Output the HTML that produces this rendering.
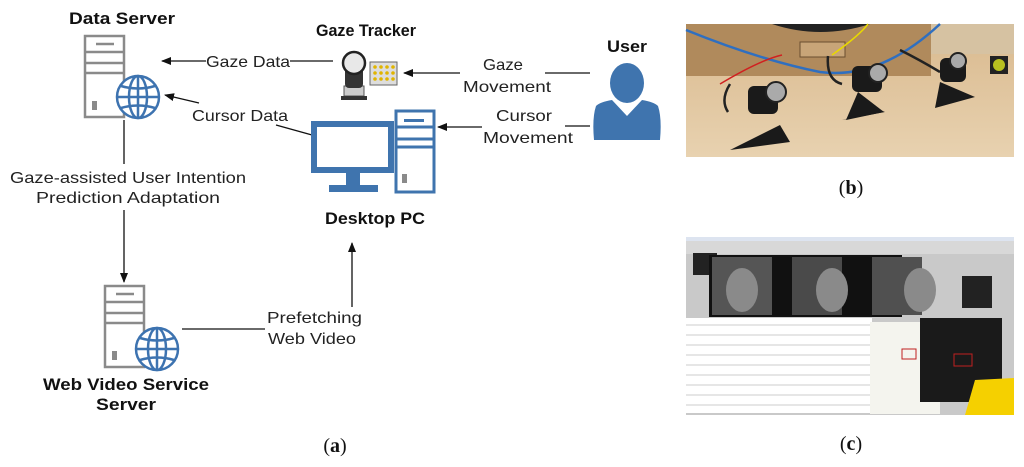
<!DOCTYPE html>
<html><head><meta charset="utf-8"><style>
html,body{margin:0;padding:0;background:#fff;width:1024px;height:467px;overflow:hidden}
svg{display:block}
text{font-family:"Liberation Sans",sans-serif;fill:#222}
.l{font-size:16px}
.b{font-size:17px;font-weight:bold;fill:#111}
</style></head><body>
<svg width="1024" height="467" viewBox="0 0 1024 467" xmlns="http://www.w3.org/2000/svg">
<defs>
<marker id="ah" markerWidth="10" markerHeight="8" refX="9" refY="4" orient="auto" markerUnits="userSpaceOnUse"><path d="M0,0 L10,4 L0,8 z" fill="#111"/></marker>
<g id="globe" fill="none" stroke="#3d73b0" stroke-width="2.5">
<circle cx="0" cy="0" r="21" fill="#fff"/>
<ellipse cx="0" cy="0" rx="9" ry="21"/>
<line x1="0" y1="-21" x2="0" y2="21"/>
<line x1="-21" y1="0" x2="21" y2="0"/>
<path d="M-17,-11 Q0,-6 17,-11 M-17,11 Q0,6 17,11"/>
</g>
<g id="tower" fill="none" stroke="#8a8a8a" stroke-width="2.5">
<rect x="0" y="0" width="39" height="81" fill="#fff"/>
<line x1="0" y1="16" x2="39" y2="16"/>
<line x1="0" y1="27" x2="39" y2="27"/>
<line x1="0" y1="37" x2="39" y2="37"/>
<line x1="11" y1="8" x2="29" y2="8"/>
<rect x="7" y="65" width="5" height="9" fill="#8a8a8a" stroke="none"/>
</g>
</defs>

<text class="b" x="122" y="24" text-anchor="middle" textLength="106" lengthAdjust="spacingAndGlyphs">Data Server</text>
<use href="#tower" x="85" y="36"/>
<use href="#globe" x="138" y="97"/>

<line x1="206" y1="61" x2="162" y2="61" stroke="#111" stroke-width="1.3" marker-end="url(#ah)"/>
<text class="l" x="206" y="67" textLength="84" lengthAdjust="spacingAndGlyphs">Gaze Data</text>
<line x1="290" y1="61" x2="333" y2="61" stroke="#111" stroke-width="1.3"/>

<text class="b" x="366" y="36" text-anchor="middle" textLength="100" lengthAdjust="spacingAndGlyphs">Gaze Tracker</text>
<g>
<rect x="344" y="86" width="20" height="10" fill="#ccc" stroke="#555"/>
<rect x="341" y="96" width="26" height="4" fill="#333"/>
<rect x="345" y="62" width="18" height="26" rx="4" fill="#333"/>
<ellipse cx="354" cy="63" rx="11" ry="11" fill="#e8e8e8" stroke="#222" stroke-width="2.5"/>
<rect x="370" y="62" width="27" height="23" fill="#ddd" stroke="#666"/>
<g fill="#e0b400">
<circle cx="375" cy="67" r="1.8"/><circle cx="381" cy="67" r="1.8"/><circle cx="387" cy="67" r="1.8"/><circle cx="393" cy="67" r="1.8"/>
<circle cx="375" cy="73" r="1.8"/><circle cx="381" cy="73" r="1.8"/><circle cx="387" cy="73" r="1.8"/><circle cx="393" cy="73" r="1.8"/>
<circle cx="375" cy="79" r="1.8"/><circle cx="381" cy="79" r="1.8"/><circle cx="387" cy="79" r="1.8"/><circle cx="393" cy="79" r="1.8"/>
</g>
</g>

<line x1="460" y1="73" x2="404" y2="73" stroke="#111" stroke-width="1.3" marker-end="url(#ah)"/>
<text class="l" x="503" y="70" text-anchor="middle" textLength="40" lengthAdjust="spacingAndGlyphs">Gaze</text>
<text class="l" x="507" y="92" text-anchor="middle" textLength="88" lengthAdjust="spacingAndGlyphs">Movement</text>
<line x1="545" y1="73" x2="590" y2="73" stroke="#111" stroke-width="1.3"/>

<text class="b" x="627" y="52" text-anchor="middle" textLength="40" lengthAdjust="spacingAndGlyphs">User</text>
<g fill="#3f74ae">
<ellipse cx="627" cy="83" rx="17" ry="20"/>
<path d="M596,106 Q600,102 612,100 L627,116 L642,100 Q654,102 658,106 Q662,118 660,140 L594,140 Q592,118 596,106 z"/>
</g>

<line x1="199" y1="103" x2="165" y2="95" stroke="#111" stroke-width="1.3" marker-end="url(#ah)"/>
<text class="l" x="192" y="121" textLength="96" lengthAdjust="spacingAndGlyphs">Cursor Data</text>
<line x1="276" y1="125" x2="312" y2="135" stroke="#111" stroke-width="1.3"/>

<g fill="#3f74ae">
<rect x="311" y="121" width="83" height="52"/>
<rect x="346" y="173" width="14" height="13"/>
<rect x="329" y="185" width="49" height="7"/>
</g>
<rect x="317" y="127" width="71" height="40" fill="#fff"/>
<g fill="none" stroke="#3f74ae" stroke-width="3">
<rect x="396" y="111" width="38" height="81" fill="#fff"/>
<line x1="396" y1="127" x2="434" y2="127"/>
<line x1="396" y1="139" x2="434" y2="139"/>
<line x1="396" y1="147" x2="434" y2="147"/>
</g>
<rect x="404" y="119" width="20" height="3" fill="#3f74ae"/>
<rect x="402" y="174" width="5" height="9" fill="#8a8a8a"/>
<text class="b" x="375" y="224" text-anchor="middle" textLength="100" lengthAdjust="spacingAndGlyphs">Desktop PC</text>

<line x1="482" y1="127" x2="438" y2="127" stroke="#111" stroke-width="1.3" marker-end="url(#ah)"/>
<text class="l" x="524" y="121" text-anchor="middle" textLength="56" lengthAdjust="spacingAndGlyphs">Cursor</text>
<text class="l" x="528" y="143" text-anchor="middle" textLength="90" lengthAdjust="spacingAndGlyphs">Movement</text>
<line x1="565" y1="126" x2="590" y2="126" stroke="#111" stroke-width="1.3"/>

<line x1="124" y1="120" x2="124" y2="164" stroke="#111" stroke-width="1.3"/>
<text class="l" x="128" y="183" text-anchor="middle" textLength="236" lengthAdjust="spacingAndGlyphs">Gaze-assisted User Intention</text>
<text class="l" x="128" y="203" text-anchor="middle" textLength="184" lengthAdjust="spacingAndGlyphs">Prediction Adaptation</text>
<line x1="124" y1="210" x2="124" y2="282" stroke="#111" stroke-width="1.3" marker-end="url(#ah)"/>

<use href="#tower" x="105" y="286"/>
<use href="#globe" x="157" y="349"/>
<text class="b" x="126" y="390" text-anchor="middle" textLength="166" lengthAdjust="spacingAndGlyphs">Web Video Service</text>
<text class="b" x="126" y="410" text-anchor="middle" textLength="60" lengthAdjust="spacingAndGlyphs">Server</text>

<line x1="182" y1="329" x2="265" y2="329" stroke="#111" stroke-width="1.3"/>
<text class="l" x="267" y="323" textLength="95" lengthAdjust="spacingAndGlyphs">Prefetching</text>
<text class="l" x="268" y="344" textLength="88" lengthAdjust="spacingAndGlyphs">Web Video</text>
<line x1="352" y1="307" x2="352" y2="243" stroke="#111" stroke-width="1.3" marker-end="url(#ah)"/>

<text x="335" y="452" text-anchor="middle" style="font-family:'Liberation Serif',serif;font-size:20px;fill:#111">(<tspan font-weight="bold">a</tspan>)</text>
<text x="851" y="194" text-anchor="middle" style="font-family:'Liberation Serif',serif;font-size:20px;fill:#111">(<tspan font-weight="bold">b</tspan>)</text>
<text x="851" y="450" text-anchor="middle" style="font-family:'Liberation Serif',serif;font-size:20px;fill:#111">(<tspan font-weight="bold">c</tspan>)</text>

<defs>
<linearGradient id="tbl" x1="0" y1="0" x2="0" y2="1"><stop offset="0" stop-color="#d9b98e"/><stop offset="1" stop-color="#e8d2b0"/></linearGradient>
</defs>
<rect x="686" y="24" width="328" height="133" fill="url(#tbl)"/>
<rect x="686" y="24" width="245" height="52" fill="#b08a5c"/>
<rect x="931" y="24" width="83" height="30" fill="#d6c2a2"/>
<path d="M772,24 Q820,40 870,24 z" fill="#222"/>
<rect x="800" y="42" width="45" height="15" fill="#c8a578" stroke="#6a4f30"/>
<path d="M686,30 Q760,60 820,72 Q880,80 940,24" fill="none" stroke="#2f6fc0" stroke-width="2.5"/>
<path d="M720,84 Q760,60 782,55" fill="none" stroke="#d02020" stroke-width="1.5"/>
<path d="M832,55 Q860,35 868,24" fill="none" stroke="#e8d800" stroke-width="1.5"/>
<path d="M730,84 Q720,100 728,112 M828,56 Q826,80 842,84 M900,50 Q920,60 940,72" fill="none" stroke="#222" stroke-width="2.5"/>
<g fill="#1a1a1a">
<path d="M730,150 L780,125 L790,142 z"/><rect x="748" y="86" width="30" height="28" rx="6"/>
<path d="M842,120 L880,110 L885,112 z"/><rect x="852" y="66" width="30" height="26" rx="6"/>
<path d="M935,108 L975,97 L940,82 z"/><rect x="940" y="58" width="26" height="24" rx="6"/>
<path d="M846,120 L858,92 L884,112 z"/>
</g>
<circle cx="776" cy="92" r="10" fill="#aaa" stroke="#222" stroke-width="2"/>
<circle cx="878" cy="73" r="9" fill="#aaa" stroke="#222" stroke-width="2"/>
<circle cx="958" cy="61" r="8" fill="#aaa" stroke="#222" stroke-width="2"/>
<rect x="990" y="56" width="18" height="18" fill="#222"/><circle cx="999" cy="65" r="6" fill="#b8c020"/>

<rect x="686" y="237" width="328" height="178" fill="#c9c9c9"/>
<rect x="686" y="237" width="328" height="4" fill="#dde4f0"/>
<rect x="686" y="241" width="328" height="13" fill="#d8d8d8"/>
<rect x="693" y="253" width="24" height="22" fill="#222"/>
<rect x="709" y="255" width="193" height="62" fill="#111"/>
<rect x="712" y="257" width="60" height="58" fill="#555"/>
<rect x="792" y="257" width="50" height="58" fill="#4a4a4a"/>
<rect x="872" y="257" width="50" height="58" fill="#505050"/>
<ellipse cx="742" cy="290" rx="16" ry="22" fill="#8a8a8a"/>
<ellipse cx="832" cy="290" rx="16" ry="22" fill="#8a8a8a"/>
<ellipse cx="920" cy="290" rx="16" ry="22" fill="#8a8a8a"/>
<rect x="962" y="276" width="30" height="32" fill="#222"/>
<rect x="686" y="318" width="186" height="95" fill="#fff"/>
<g stroke="#ccc" stroke-width="1">
<line x1="686" y1="325" x2="872" y2="325"/><line x1="686" y1="335" x2="872" y2="335"/><line x1="686" y1="345" x2="872" y2="345"/><line x1="686" y1="355" x2="872" y2="355"/><line x1="686" y1="365" x2="872" y2="365"/><line x1="686" y1="375" x2="872" y2="375"/><line x1="686" y1="385" x2="872" y2="385"/><line x1="686" y1="395" x2="872" y2="395"/><line x1="686" y1="405" x2="872" y2="405"/>
</g>
<rect x="870" y="322" width="70" height="92" fill="#f4f4ee"/>
<rect x="920" y="318" width="82" height="84" fill="#1a1a1a"/>
<rect x="954" y="354" width="18" height="12" fill="none" stroke="#c02020"/>
<rect x="902" y="349" width="14" height="10" fill="none" stroke="#c02020"/>
<path d="M975,380 L1014,378 L1014,415 L965,415 z" fill="#f5d000"/>
</svg>
</body></html>
